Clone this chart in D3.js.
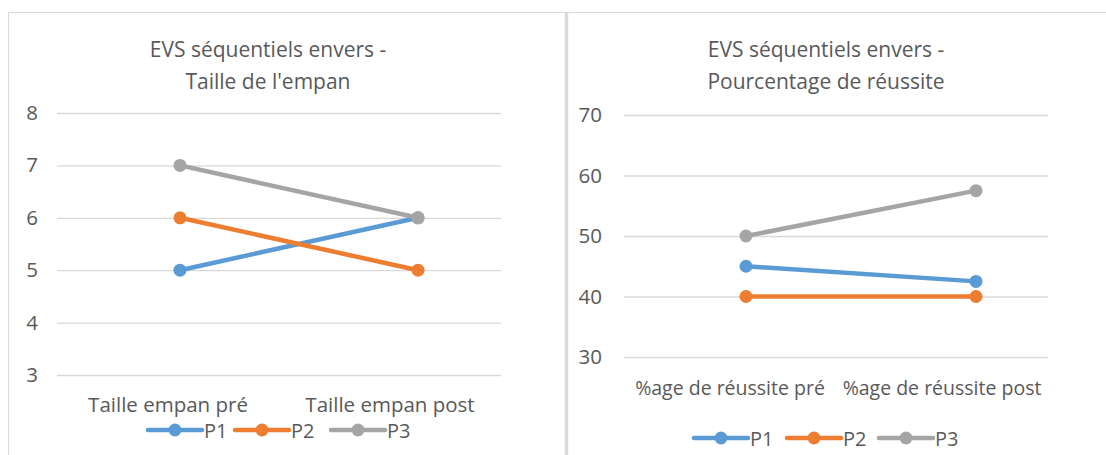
<!DOCTYPE html>
<html>
  <head>
    <meta charset="utf-8">
    <title>EVS séquentiels envers</title>
    <script src="https://cdn.jsdelivr.net/npm/d3@7"></script>
    <style>
      body { margin: 0; background: #fff; }
      text { font-family: "Open Sans", Lato, sans-serif; fill: #595959; }
    </style>
  </head>
  <body>
    <svg width="1106" height="455" id="mainsvg"></svg>
    <script>
      // data
      const seriesNames = ['P1', 'P2', 'P3'];
      const seriesColors = ['#5B9BD5', '#ED7D31', '#A5A5A5'];

      const spanCategories = ['Taille empan pré', 'Taille empan post'];
      const spanP1 = [5, 6];
      const spanP2 = [6, 5];
      const spanP3 = [7, 6];
      const spanTicks = [3, 4, 5, 6, 7, 8];

      const pctCategories = ['%age de réussite pré', '%age de réussite post'];
      const pctP1 = [45, 42.5];
      const pctP2 = [40, 40];
      const pctP3 = [50, 57.5];
      const pctTicks = [30, 40, 50, 60, 70];

      const FONT = '"Open Sans", Lato, sans-serif';
      const svg = d3.select('#mainsvg');

      // frame lines
      svg.append('line').attr('x1', 8).attr('x2', 1106).attr('y1', 12.5).attr('y2', 12.5)
        .attr('stroke', '#d9d9d9').attr('stroke-width', 1);
      svg.append('line').attr('x1', 8.5).attr('x2', 8.5).attr('y1', 12).attr('y2', 455)
        .attr('stroke', '#d9d9d9').attr('stroke-width', 1);
      svg.append('line').attr('x1', 566.5).attr('x2', 566.5).attr('y1', 12).attr('y2', 455)
        .attr('stroke', '#d9d9d9').attr('stroke-width', 3.5);

      const drawPanel = function(cfg) {
        const g = svg.append('g');

        const yScale = d3.scaleLinear()
          .domain([d3.min(cfg.ticks), d3.max(cfg.ticks)])
          .range([cfg.bottom, cfg.top]);

        // band scale for category labels, point scale for the lines
        const xBand = d3.scaleBand().domain(cfg.categories).range([cfg.left, cfg.right]);
        const xPoint = d3.scalePoint().domain(cfg.categories).range(cfg.lineRange).padding(0.5);

        // title
        const title = g.append('text')
          .attr('text-anchor', 'middle')
          .attr('font-size', 21);
        cfg.title.forEach((t, i) => {
          title.append('tspan').attr('x', cfg.titleX).attr('y', 57 + i * 32).text(t);
        });

        // y axis + gridlines
        const yAxis = d3.axisLeft(yScale)
          .tickValues(cfg.ticks)
          .tickFormat(d3.format('d'))
          .tickSize(-(cfg.right - cfg.left))
          .tickPadding(cfg.tickPad);
        const yAxisGroup = g.append('g')
          .attr('transform', `translate(${cfg.left}, 0)`)
          .call(yAxis);
        yAxisGroup.select('.domain').remove();
        yAxisGroup.selectAll('.tick line').attr('stroke', '#d9d9d9').attr('stroke-width', 1.3);
        yAxisGroup.selectAll('.tick text')
          .attr('font-size', 20.5).attr('fill', '#595959')
          .attr('font-family', FONT);

        // category labels
        const xAxis = d3.axisBottom(xBand).tickSize(0).tickPadding(0);
        const xAxisGroup = g.append('g')
          .attr('transform', `translate(0, ${cfg.catY})`)
          .call(xAxis);
        xAxisGroup.select('.domain').remove();
        xAxisGroup.selectAll('.tick text')
          .attr('font-size', cfg.catSize).attr('fill', '#595959')
          .attr('font-family', FONT)
          .attr('dy', 0);

        // lines and markers
        const line = d3.line()
          .x((d, i) => xPoint(cfg.categories[i]))
          .y(d => yScale(d));
        cfg.series.forEach((values, si) => {
          g.append('path')
            .attr('d', line(values))
            .attr('fill', 'none')
            .attr('stroke', seriesColors[si])
            .attr('stroke-width', 4.5)
            .attr('stroke-linecap', 'round');
          g.selectAll(`.pt-${si}`)
            .data(values)
            .join('circle')
            .attr('class', `pt-${si}`)
            .attr('cx', (d, i) => xPoint(cfg.categories[i]))
            .attr('cy', d => yScale(d))
            .attr('r', 6.5)
            .attr('fill', seriesColors[si]);
        });

        // legend
        const legend = g.append('g').attr('transform', `translate(0, ${cfg.legendY})`);
        const items = legend.selectAll('g')
          .data(seriesNames)
          .join('g')
          .attr('transform', (d, i) => `translate(${cfg.legendX[i]}, 0)`);
        items.append('line')
          .attr('x1', 0).attr('x2', 54).attr('y1', 0).attr('y2', 0)
          .attr('stroke', (d, i) => seriesColors[i])
          .attr('stroke-width', 4.5)
          .attr('stroke-linecap', 'round');
        items.append('circle')
          .attr('cx', 27).attr('cy', 0).attr('r', 6.5)
          .attr('fill', (d, i) => seriesColors[i]);
        items.append('text')
          .attr('x', 56).attr('y', 7.5)
          .attr('font-size', 20)
          .text(d => d);
      };

      drawPanel({
        title: ['EVS séquentiels envers -', "Taille de l'empan"],
        titleX: 268,
        categories: spanCategories,
        series: [spanP1, spanP2, spanP3],
        ticks: spanTicks,
        left: 57, right: 501, top: 113, bottom: 375,
        tickPad: 19,
        lineRange: [61, 537],
        catY: 412,
        catSize: 20.5,
        legendY: 430,
        legendX: [148, 235, 331]
      });

      drawPanel({
        title: ['EVS séquentiels envers -', 'Pourcentage de réussite'],
        titleX: 826,
        categories: pctCategories,
        series: [pctP1, pctP2, pctP3],
        ticks: pctTicks,
        left: 624, right: 1048, top: 115, bottom: 357,
        tickPad: 22,
        lineRange: [631, 1091],
        catY: 395,
        catSize: 19.5,
        legendY: 438,
        legendX: [694, 787, 879]
      });
    </script>
  </body>
</html>
